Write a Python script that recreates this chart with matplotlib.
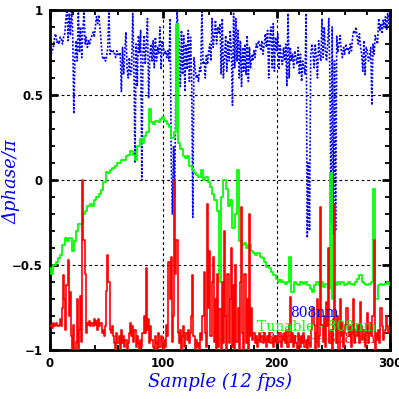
import numpy as np
import matplotlib
matplotlib.use("Agg")
import matplotlib.pyplot as plt
from matplotlib.ticker import MultipleLocator

# ---- data ----
blue_808 = [
    0.72, 0.74, 0.76, 0.78, 0.84, 0.86, 0.81, 0.82, 0.80, 0.84, 0.83, 0.80, 0.84, 0.86, 0.95, 1.0, 0.82, 0.98, 0.85, 1.0,
    0.88, 0.39, 0.72, 0.82, 0.70, 1.0, 0.75, 0.90, 0.72, 0.88, 1.0, 0.80, 0.84, 0.78, 0.82, 0.80, 0.83, 0.85, 0.87, 0.84,
    0.90, 0.96, 0.92, 0.97, 0.90, 0.82, 0.73, 0.71, 0.72, 0.70, 0.73, 0.78, 1.0, 0.74, 0.76, 0.75, 0.76, 0.74, 0.72, 0.76,
    0.74, 0.73, 0.75, 0.52, 0.78, 0.62, 0.76, 0.87, 0.66, 0.60, 0.72, 0.62, 0.64, 0.98, 0.70, 0.10, 0.80, 0.55, 0.85, 0.75,
    0.88, 0.0, 0.75, 0.85, 0.68, 0.80, 0.95, 0.48, 0.72, 0.80, 0.70, 0.82, 0.66, 0.84, 0.70, 0.78, 0.74, 0.90, 0.65, 0.82,
    0.78, 0.74, 0.76, 0.72, 0.76, 0.70, 0.95, 0.10, -0.20, 0.20, -0.10, 0.55, 1.0, 0.90, 0.80, 0.55, 0.88, 0.62, 0.85, 0.52,
    0.80, 0.65, 0.88, 0.58, 0.84, 0.60, -0.22, 0.72, 0.66, 0.60, 0.62, 0.58, 0.66, 0.64, 1.0, 0.68, 0.70, 0.60, 0.74, 0.68,
    0.76, 0.80, 0.70, 0.95, 0.78, 0.85, 0.94, 0.80, 0.90, 0.86, 0.92, 0.62, 0.95, 0.60, 0.72, 0.85, 0.64, 0.82, 0.70, 0.88,
    0.75, 0.44, 0.98, 0.66, 0.95, 0.70, 0.88, 0.60, 0.82, 0.55, 0.78, 0.64, 0.80, 0.62, 0.85, 0.58, 0.78, 0.66, 0.74, 0.70,
    0.76, 0.72, 0.80, 0.78, 0.82, 0.80, 0.76, 0.82, 0.74, 0.80, 0.86, 0.78, 0.88, 0.60, 0.85, 0.90, 0.66, 0.92, 0.64, 0.84,
    0.76, 0.86, 0.65, 0.80, 0.72, 0.68, 0.78, 0.70, 0.80, 0.55, 0.98, 0.60, 0.78, 0.70, 0.74, 0.66, 0.76, 0.72, 0.68, 0.78,
    0.62, 0.74, 0.58, 0.70, 0.66, 0.62, 0.98, -0.34, 0.10, -0.30, 0.72, 0.80, 0.75, 0.66, 0.80, 0.72, 0.60, 0.82, 0.74, 0.70,
    0.95, 0.72, 0.90, 0.76, 0.70, 0.80, 0.95, 0.60, -0.25, 0.90, -0.32, 0.70, -0.30, 0.85, 0.75, 0.80, 0.85, 0.76, 0.72, 0.78,
    0.74, 0.80, 0.76, 0.78, 0.74, 0.80, 0.76, 0.84, 0.88, 0.86, 0.90, 0.84, 0.80, 0.86, 0.78, 0.74, 0.64, 0.82, 0.62, 0.78,
    0.76, 0.70, 0.72, 0.78, 0.44, 0.80, 0.74, 0.85, 0.82, 0.80, 0.95, 0.88, 0.92, 0.86, 0.94, 0.90, 0.96, 0.88, 0.98, 0.92,
    0.95,
]

red_633_808 = [
    -0.86, -0.85, -0.87, -0.84, -0.86, -0.85, -0.84, -0.86, -0.85, -0.82, -0.86, -0.75, -0.56, -0.70, -0.88, -0.62, -0.47, -0.80, -0.66, -0.92,
    -1.0, -0.85, -1.0, -0.95, -0.70, -1.0, -0.88, -0.68, -0.95, 0.0, -0.35, -0.55, -0.90, -0.84, -0.85, -0.83, -0.86, -0.84, -0.86, -0.82,
    -0.85, -0.83, -0.88, -0.82, -0.86, -0.84, -0.90, -0.88, -0.92, -0.86, -0.65, -0.44, -0.60, -0.88, -0.90, -0.86, -0.92, -0.96, -1.0, -0.90,
    -0.96, -0.92, -1.0, -0.88, -0.96, -0.92, -0.98, -0.94, -1.0, -0.96, -0.90, -0.84, -0.92, -0.86, -0.95, -0.88, -0.98, -0.92, -0.96, -1.0,
    -0.94, -0.98, -0.90, -0.80, -0.90, -0.52, -0.88, -0.82, -0.96, -0.86, -0.94, -0.98, -1.0, -0.92, -0.96, -1.0, -0.90, -0.98, -0.92, -0.96,
    -1.0, -0.94, -0.98, -0.85, -0.92, -0.48, -0.70, -0.45, -0.95, -0.80, 0.0, -0.55, -0.35, -0.90, -0.96, -0.88, -1.0, -0.92, -0.86, -0.98,
    -0.90, -0.94, -0.88, -0.96, -0.90, -0.80, -0.56, -0.92, -1.0, -0.94, -0.98, -0.96, -1.0, -0.90, -0.94, -0.80, -0.54, -0.90, -0.98, -0.14,
    -0.75, -0.42, -0.92, -0.60, -0.45, -0.95, -0.70, -1.0, -0.55, -0.98, -0.76, -1.0, -0.60, -0.96, -0.30, -0.80, -1.0, -0.55, -0.96, -0.70,
    -0.40, -0.98, -0.62, -1.0, -0.50, -0.95, -0.75, -1.0, -0.60, -0.16, -0.90, -1.0, -0.55, -0.96, -0.70, -1.0, -0.20, -0.92, -0.75, -0.94,
    -0.90, -0.96, -0.92, -0.98, -0.94, -0.90, -0.95, -0.92, -0.96, -0.90, -0.94, -0.98, -0.92, -0.95, -0.90, -0.96, -0.93, -0.98, -0.92, -0.95,
    -0.92, -0.96, -0.90, -0.95, -0.98, -0.92, -0.94, -0.90, -0.96, -0.88, -0.98, -0.85, -0.69, -0.95, -0.90, -0.98, -0.92, -0.96, -1.0, -0.90,
    -0.94, -0.98, -0.92, -0.96, -0.90, -0.98, -0.94, -1.0, -0.92, -0.96, -0.98, -0.88, -0.75, -0.85, -1.0, -0.90, -0.70, -0.98, -0.92, -0.16,
    -0.85, -0.95, -0.80, -0.98, -0.72, -0.86, -0.40, -0.96, -0.88, -1.0, -0.82, -0.14, -0.85, -0.96, -0.80, -1.0, -0.70, -0.92, -0.84, -0.98,
    -0.90, -0.85, -0.75, -0.88, -0.92, -0.86, -0.98, -0.90, -0.70, -0.96, -0.88, -0.92, -0.85, -0.96, -0.72, -0.86, -0.94, -0.88, -0.98, -0.90,
    -0.78, -0.96, -0.90, -0.84, -0.92, -0.80, -0.35, -1.0, -0.90, -0.94, -0.88, -0.96, -0.75, -0.86, -0.94, -0.90, -0.88, -0.80, -0.86, -0.90,
    -0.88,
]

# tunable - 808nm, sampled every 2 frames
green_tunable = [
    -0.52, -0.55, -0.50, -0.48, -0.46, -0.44, -0.38, -0.34, -0.36, -0.34, -0.42, -0.36, -0.30, -0.26, -0.26, -0.20, -0.18, -0.15, -0.14, -0.15,
    -0.12, -0.10, -0.08, -0.06, -0.01, 0.05, 0.04, 0.06, 0.07, 0.08, 0.10, 0.10, 0.12, 0.12, 0.14, 0.15, 0.17, 0.15, 0.12, 0.20,
    0.24, 0.22, 0.26, 0.28, 0.42, 0.34, 0.33, 0.35, 0.34, 0.36, 0.37, 0.35, 0.33, 0.31, 0.25, 0.28, 0.92, 0.22, 0.18, 0.14,
    0.13, 0.14, 0.08, 0.06, 0.04, 0.03, 0.02, 0.06, 0.00, 0.02, -0.01, -0.04, -0.08, -0.12, -0.18, -0.60, -0.10, 0.00, -0.05, -0.15,
    -0.12, -0.28, -0.20, 0.06, -0.36, -0.38, -0.37, -0.40, -0.38, -0.42, -0.43, -0.44, -0.43, -0.45, -0.46, -0.48, -0.51, -0.52, -0.54, -0.56,
    -0.58, -0.60, -0.59, -0.60, -0.61, -0.60, -0.45, -0.66, -0.60, -0.61, -0.62, -0.60, -0.61, -0.60, -0.62, -0.64, -0.66, -0.62, -0.60, -0.62,
    -0.60, -0.63, -0.61, -0.64, 0.04, -0.70, -0.62, -0.60, -0.61, -0.60, -0.62, -0.61, -0.60, -0.61, -0.62, -0.60, -0.58, -0.56, -0.60, -0.61,
    -0.62, -0.61, -0.60, -0.05, -0.70, -0.62, -0.61, -0.62, -0.61, -0.60, -0.62,
]

frames = np.arange(len(blue_808))
frames_green = np.arange(len(green_tunable)) * 2

labels = ["808nm", "Tunable - 808nm", "633nm + 808nm"]
x_ticks = [0, 100, 200, 300]
y_ticks = [-1, -0.5, 0, 0.5, 1]
y_ticklabels = ["\u22121", "\u22120.5", "0", "0.5", "1"]

# ---- figure ----
fig = plt.figure(figsize=(3.99, 3.99), dpi=100)
ax = fig.add_axes([50 / 399, 49 / 399, 340 / 399, 340 / 399])

ax.plot(frames, blue_808, color="#0000ff", lw=1.2, linestyle=(0, (1.2, 1.0)), zorder=2)
ax.plot(frames_green, green_tunable, color="#00ff00", lw=1.3, drawstyle="steps-mid", zorder=3)
ax.plot(frames, red_633_808, color="#ff0000", lw=1.2, drawstyle="steps-mid", zorder=4)

ax.set_xlim(0, 300)
ax.set_ylim(-1, 1)

ax.set_xticks(x_ticks)
ax.set_xticklabels([str(t) for t in x_ticks])
ax.set_yticks(y_ticks)
ax.set_yticklabels(y_ticklabels)
ax.xaxis.set_minor_locator(MultipleLocator(20))
ax.yaxis.set_minor_locator(MultipleLocator(0.1))

ax.tick_params(which="major", direction="in", length=6, width=2, top=True, right=True,
               labelsize=8.5, pad=5)
ax.tick_params(which="minor", direction="in", length=3.5, width=1.3, top=True, right=True)
for lab in ax.get_xticklabels() + ax.get_yticklabels():
    lab.set_fontweight("bold")

for sp in ax.spines.values():
    sp.set_linewidth(2)

ax.grid(True, which="major", color="black", linestyle=(0, (2.5, 2.5)), linewidth=0.8)
ax.set_axisbelow(False)

ax.set_xlabel("Sample (12 fps)", color="#0000ff", fontsize=13, style="italic",
              family="DejaVu Serif", labelpad=2)
fig.text(12 / 399, 1 - 182 / 399, "\u0394phase/\u03c0", color="#0000ff", fontsize=13,
         style="italic", family="DejaVu Serif", rotation=90, ha="center", va="center")

ax.text(211.8, -0.785, labels[0], color="#0000ff", fontsize=10, family="DejaVu Serif",
        ha="left", va="center", zorder=5)
ax.text(182.6, -0.865, labels[1], color="#00ff00", fontsize=10, family="DejaVu Serif",
        ha="left", va="center", zorder=5)
ax.text(183.5, -0.935, labels[2], color="#ff0000", fontsize=10, family="DejaVu Serif",
        ha="left", va="center", zorder=5)

fig.savefig("out.png", dpi=100)
